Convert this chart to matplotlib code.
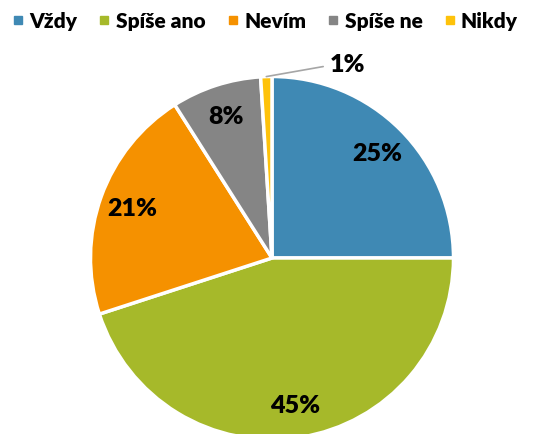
import matplotlib
matplotlib.use("Agg")
import matplotlib.pyplot as plt
from matplotlib.lines import Line2D
import numpy as np

plt.rcParams['font.family'] = ['Lato', 'DejaVu Sans']
plt.rcParams['font.weight'] = 'heavy'

labels = ["Vždy", "Spíše ano", "Nevím", "Spíše ne", "Nikdy"]
values = [25, 45, 21, 8, 1]
colors = ["#3F89B4", "#A6B92A", "#F59100", "#858585", "#FEC20A"]

W, H = 547, 435
cx, cy, r = 272, 259, 181.5  # pie centre / radius in pixels

fig = plt.figure(figsize=(W / 100, H / 100), dpi=100)
ax = fig.add_axes([0, 0, 1, 1])

wedges, texts, autotexts = ax.pie(
    values, colors=colors, startangle=90, counterclock=False,
    autopct=lambda p: f"{p:.0f}%" if p >= 2 else "",
    pctdistance=0.82,
    wedgeprops=dict(edgecolor="white", linewidth=2.5),
    textprops=dict(fontsize=18, fontweight="heavy", color="black"))

# small slice label with leader line
w = wedges[-1]
ang = np.deg2rad((w.theta1 + w.theta2) / 2)
ax.annotate(f"{values[-1]}%", xy=(np.cos(ang), np.sin(ang)),
            xytext=(0.32, 1.07), fontsize=18, fontweight="heavy",
            ha="left", va="center",
            arrowprops=dict(arrowstyle="-", color="#A6A6A6", lw=1.2,
                            shrinkA=3, shrinkB=0,
                            connectionstyle="angle,angleA=0,angleB=10,rad=0"))

ax.set_xlim(-cx / r, (W - cx) / r)
ax.set_ylim((cy - H) / r, cy / r)
ax.set_aspect("auto")
ax.axis("off")

handles = [Line2D([], [], marker="s", ls="", color=c, markersize=6) for c in colors]
fig.legend(handles, labels, loc="upper center", bbox_to_anchor=(0.486, 1.015),
           ncol=5, frameon=False, handlelength=0.4,
           handletextpad=0.35, columnspacing=1.1,
           prop=dict(weight="heavy", size=15))

fig.savefig("out.png", dpi=100)
